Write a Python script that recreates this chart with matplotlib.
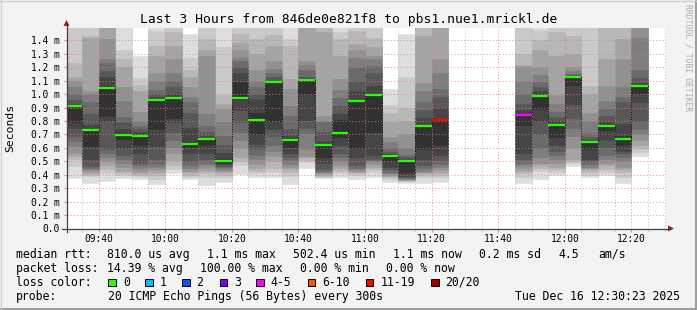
import matplotlib
matplotlib.use('Agg')
import matplotlib.pyplot as plt
from matplotlib.patches import Rectangle, Polygon
from matplotlib.lines import Line2D
from matplotlib.ticker import MultipleLocator

# 5-minute slots (start time), 20 sorted pings per slot in ms
bin_start = ['09:30', '09:35', '09:40', '09:45', '09:50', '09:55', '10:00', '10:05',
             '10:10', '10:15', '10:20', '10:25', '10:30', '10:35', '10:40', '10:45',
             '10:50', '10:55', '11:00', '11:05', '11:10', '11:15', '11:20',
             '11:45', '11:50', '11:55', '12:00', '12:05', '12:10', '12:15', '12:20']

pings = [
    [0.378, 0.465, 0.515, 0.54, 0.565, 0.615, 0.65, 0.69, 0.75, 0.79, 0.90, 0.925, 0.955, 1.0, 1.05, 1.10, 1.13, 1.23, 1.52, 1.60],
    [0.335, 0.39, 0.40, 0.415, 0.43, 0.44, 0.45, 0.465, 0.515, 0.615, 0.74, 0.77, 0.85, 0.94, 1.0, 1.02, 1.42, 1.43, 1.52, 1.60],
    [0.355, 0.41, 0.44, 0.47, 0.50, 0.53, 0.56, 0.59, 0.80, 0.84, 1.06, 1.13, 1.17, 1.23, 1.26, 1.41, 1.52, 1.56, 1.60, 1.65],
    [0.375, 0.40, 0.41, 0.43, 0.46, 0.49, 0.52, 0.55, 0.60, 0.665, 0.71, 0.74, 0.79, 0.83, 0.95, 1.05, 1.20, 1.26, 1.33, 1.60],
    [0.37, 0.39, 0.40, 0.41, 0.43, 0.45, 0.47, 0.49, 0.565, 0.625, 0.695, 0.72, 0.74, 0.76, 0.80, 0.87, 1.02, 1.07, 1.12, 1.28],
    [0.33, 0.37, 0.40, 0.42, 0.44, 0.46, 0.48, 0.52, 0.615, 0.74, 0.965, 0.98, 1.0, 1.03, 1.10, 1.16, 1.28, 1.36, 1.47, 1.55],
    [0.415, 0.44, 0.47, 0.51, 0.56, 0.61, 0.66, 0.72, 0.79, 0.825, 0.98, 1.0, 1.05, 1.10, 1.16, 1.26, 1.36, 1.46, 1.53, 1.60],
    [0.37, 0.385, 0.40, 0.42, 0.43, 0.45, 0.47, 0.50, 0.56, 0.61, 0.64, 0.75, 0.86, 0.94, 0.98, 1.05, 1.13, 1.18, 1.27, 1.45],
    [0.32, 0.385, 0.41, 0.43, 0.45, 0.47, 0.49, 0.52, 0.565, 0.62, 0.67, 0.69, 0.72, 0.76, 0.85, 1.28, 1.33, 1.41, 1.51, 1.58],
    [0.345, 0.38, 0.40, 0.42, 0.43, 0.445, 0.455, 0.465, 0.48, 0.49, 0.515, 0.56, 0.62, 0.69, 0.79, 0.89, 0.93, 0.99, 1.35, 1.60],
    [0.405, 0.47, 0.50, 0.53, 0.60, 0.66, 0.72, 0.79, 0.88, 0.96, 1.09, 1.16, 1.20, 1.25, 1.27, 1.33, 1.38, 1.45, 1.52, 1.60],
    [0.38, 0.41, 0.43, 0.45, 0.48, 0.515, 0.55, 0.59, 0.63, 0.70, 0.86, 0.96, 1.0, 1.05, 1.10, 1.18, 1.30, 1.41, 1.52, 1.60],
    [0.38, 0.42, 0.45, 0.50, 0.54, 0.58, 0.62, 0.69, 0.74, 0.80, 1.09, 1.10, 1.13, 1.16, 1.19, 1.25, 1.36, 1.44, 1.52, 1.60],
    [0.33, 0.39, 0.42, 0.44, 0.46, 0.48, 0.51, 0.53, 0.565, 0.61, 0.66, 0.69, 0.74, 0.84, 0.91, 1.04, 1.11, 1.36, 1.41, 1.60],
    [0.45, 0.495, 0.51, 0.53, 0.54, 0.59, 0.71, 0.75, 0.81, 1.0, 1.11, 1.12, 1.13, 1.18, 1.22, 1.25, 1.50, 1.55, 1.62, 1.70],
    [0.375, 0.385, 0.39, 0.40, 0.41, 0.42, 0.43, 0.44, 0.49, 0.53, 0.63, 0.65, 0.72, 0.79, 0.80, 0.84, 1.46, 1.52, 1.60, 1.70],
    [0.38, 0.41, 0.43, 0.45, 0.47, 0.50, 0.53, 0.56, 0.62, 0.68, 0.81, 0.85, 0.91, 0.97, 1.03, 1.11, 1.28, 1.41, 1.46, 1.56],
    [0.37, 0.40, 0.41, 0.42, 0.43, 0.44, 0.45, 0.47, 0.53, 0.60, 0.955, 1.02, 1.10, 1.20, 1.27, 1.33, 1.37, 1.47, 1.52, 1.60],
    [0.38, 0.42, 0.44, 0.46, 0.48, 0.50, 0.51, 0.52, 0.55, 0.715, 1.0, 1.06, 1.16, 1.21, 1.26, 1.28, 1.35, 1.42, 1.50, 1.60],
    [0.345, 0.365, 0.38, 0.39, 0.40, 0.41, 0.42, 0.44, 0.46, 0.50, 0.545, 0.555, 0.57, 0.60, 0.64, 0.68, 0.79, 0.86, 0.92, 1.04],
    [0.335, 0.35, 0.355, 0.36, 0.365, 0.37, 0.375, 0.38, 0.39, 0.42, 0.51, 0.52, 0.53, 0.55, 0.60, 0.70, 0.80, 0.90, 1.13, 1.45],
    [0.34, 0.38, 0.40, 0.41, 0.42, 0.43, 0.45, 0.47, 0.52, 0.59, 0.77, 0.82, 0.88, 0.94, 1.02, 1.08, 1.43, 1.50, 1.55, 1.65],
    [0.345, 0.38, 0.40, 0.42, 0.44, 0.46, 0.48, 0.51, 0.55, 0.62, 0.81, 0.90, 0.98, 1.04, 1.16, 1.26, 1.50, 1.55, 1.62, 1.70],
    [0.34, 0.38, 0.41, 0.43, 0.45, 0.47, 0.49, 0.52, 0.56, 0.77, 0.85, 0.88, 0.93, 1.0, 1.10, 1.20, 1.22, 1.30, 1.53, 1.60],
    [0.37, 0.43, 0.45, 0.47, 0.49, 0.53, 0.60, 0.70, 0.80, 0.89, 0.99, 1.02, 1.05, 1.09, 1.14, 1.20, 1.33, 1.40, 1.48, 1.60],
    [0.40, 0.42, 0.44, 0.46, 0.49, 0.52, 0.55, 0.58, 0.62, 0.68, 0.78, 0.80, 0.83, 0.87, 0.93, 0.99, 1.28, 1.46, 1.50, 1.60],
    [0.465, 0.485, 0.50, 0.52, 0.60, 0.69, 0.75, 0.82, 0.93, 1.07, 1.13, 1.135, 1.14, 1.15, 1.17, 1.20, 1.30, 1.43, 1.50, 1.60],
    [0.385, 0.40, 0.42, 0.44, 0.45, 0.46, 0.48, 0.50, 0.52, 0.59, 0.645, 0.655, 0.68, 0.71, 0.80, 0.86, 1.0, 1.06, 1.52, 1.60],
    [0.40, 0.42, 0.44, 0.47, 0.49, 0.515, 0.55, 0.61, 0.66, 0.73, 0.77, 0.79, 0.84, 0.89, 0.95, 1.06, 1.26, 1.55, 1.60, 1.70],
    [0.335, 0.38, 0.42, 0.44, 0.46, 0.50, 0.53, 0.56, 0.58, 0.62, 0.69, 0.78, 0.94, 0.98, 1.05, 1.26, 1.41, 1.52, 1.60, 1.70],
    [0.54, 0.57, 0.60, 0.62, 0.66, 0.70, 0.74, 0.80, 0.94, 1.01, 1.065, 1.08, 1.12, 1.18, 1.42, 1.50, 1.55, 1.60, 1.65, 1.70],
]

median = [0.911, 0.735, 1.045, 0.698, 0.688, 0.958, 0.973, 0.631, 0.668, 0.505, 0.971,
          0.81, 1.092, 0.656, 1.107, 0.624, 0.713, 0.951, 0.996, 0.542, 0.505, 0.765,
          0.81, 0.847, 0.986, 0.772, 1.13, 0.646, 0.763, 0.668, 1.063]

# lost pings out of 20 per slot
loss = [0] * 22 + [12, 4] + [0] * 7

x_ticks = ['09:40', '10:00', '10:20', '10:40', '11:00', '11:20', '11:40', '12:00', '12:20']
y_ticks = [0.0, 0.1, 0.2, 0.3, 0.4, 0.5, 0.6, 0.7, 0.8, 0.9, 1.0, 1.1, 1.2, 1.3, 1.4]
y_labels = ['0.0', '0.1 m', '0.2 m', '0.3 m', '0.4 m', '0.5 m', '0.6 m', '0.7 m',
            '0.8 m', '0.9 m', '1.0 m', '1.1 m', '1.2 m', '1.3 m', '1.4 m']

loss_names = ['0', '1', '2', '3', '4-5', '6-10', '11-19', '20/20']
loss_colors = ['#26ff00', '#00b8ff', '#0059ff', '#7e00ff', '#ff00ff', '#ff5500', '#ff0000', '#a00000']


def minutes(s):
    h, m = s.split(':')
    return int(h) * 60 + int(m)


def loss_color(n):
    if n <= 3:
        return loss_colors[n]
    if n <= 5:
        return loss_colors[4]
    if n <= 10:
        return loss_colors[5]
    if n <= 19:
        return loss_colors[6]
    return loss_colors[7]


W, H = 697, 310
mono = 'DejaVu Sans Mono'
plt.rcParams['font.family'] = mono


def fx(x):
    return x / W


def fy(y):
    return 1 - y / H


fig = plt.figure(figsize=(W / 100, H / 100), dpi=100, facecolor='#f3f3f3')
ax = fig.add_axes([fx(66.5), fy(228.5), (666 - 66.5) / W, (228.5 - 28) / H])
ax.set_facecolor('white')

xs = [minutes(s) for s in bin_start]

# smoke: 10 nested bands, lightest outside
shades = ['#dddddd', '#cacaca', '#b7b7b7', '#a4a4a4', '#919191',
          '#7e7e7e', '#6b6b6b', '#585858', '#454545', '#323232']
for i, c in enumerate(shades):
    lo = [p[i] for p in pings]
    hi = [p[19 - i] for p in pings]
    ax.bar(xs, [h - l for h, l in zip(hi, lo)], bottom=lo, width=5, align='edge',
           color=c, edgecolor=c, linewidth=0.4, zorder=1)

# median step connectors
for i in range(len(xs) - 1):
    if xs[i + 1] == xs[i] + 5:
        ax.vlines(xs[i + 1], median[i], median[i + 1], colors='black',
                  linestyles=(0, (1, 1.5)), linewidth=0.7, zorder=3)

ax.hlines(median, xs, [x + 5 for x in xs], colors=[loss_color(n) for n in loss],
          linewidth=1.6, zorder=4)

ax.set_xlim(570 + 23 / 60, 750 + 23 / 60)
ax.set_ylim(0, 1.492)

ax.set_xticks([minutes(s) for s in x_ticks])
ax.set_xticklabels(x_ticks)
ax.xaxis.set_minor_locator(MultipleLocator(5))
ax.set_yticks(y_ticks)
ax.set_yticklabels(y_labels)

ax.set_axisbelow(False)
dots = (0, (1, 2.2))
ax.grid(True, which='minor', axis='x', color='#b0b0b0', alpha=0.8, linestyle=dots, linewidth=0.72)
ax.grid(True, which='major', axis='x', color='#ff7070', alpha=0.8, linestyle=dots, linewidth=0.72)
ax.grid(True, which='major', axis='y', color='#ff7070', alpha=0.8, linestyle=dots, linewidth=0.72)

ax.tick_params(axis='x', which='major', length=2, color='#ff8080', pad=2.2, labelsize=6.9)
ax.tick_params(axis='x', which='minor', length=2, color='#c8c8c8')
ax.tick_params(axis='y', which='major', length=2, color='#ff8080', pad=3.2, labelsize=6.9)
for s in ax.spines.values():
    s.set_visible(False)

# axes with arrows
fig.add_artist(Line2D([fx(66.5), fx(66.5)], [fy(232), fy(24)], color='#404040', linewidth=0.9))
fig.add_artist(Line2D([fx(62), fx(670)], [fy(228.5), fy(228.5)], color='#404040', linewidth=0.9))
fig.add_artist(Polygon([[fx(66.5), fy(20)], [fx(63.5), fy(26)], [fx(69.5), fy(26)]],
                       closed=True, color='#9e1c1c', linewidth=0))
fig.add_artist(Polygon([[fx(674), fy(228.5)], [fx(668), fy(225.5)], [fx(668), fy(231.5)]],
                       closed=True, color='#9e1c1c', linewidth=0))

# frame shading
fig.add_artist(Line2D([0, 1], [fy(309), fy(309)], color='#9e9e9e', linewidth=1.5))
fig.add_artist(Line2D([fx(696), fx(696)], [0, 1], color='#9e9e9e', linewidth=1.5))
fig.add_artist(Line2D([0, 1], [fy(0.5), fy(0.5)], color='#cfcfcf', linewidth=1))
fig.add_artist(Line2D([fx(0.5), fx(0.5)], [0, 1], color='#cfcfcf', linewidth=1))

fig.text(0.5, fy(19), 'Last 3 Hours from 846de0e821f8 to pbs1.nue1.mrickl.de',
         ha='center', va='center', fontsize=9.4)
fig.text(fx(10), fy(127.5), 'Seconds', rotation=90, ha='center', va='center', fontsize=8.2)
fig.text(fx(688), fy(4), 'RRDTOOL / TOBI OETIKER', rotation=270, ha='center', va='top',
         fontsize=5.8, color='#aaaaaa')

fs = 8.3
row1 = [(16, 'median rtt:'), (107, '810.0 us avg'), (207, '1.1 ms max'), (293, '502.4 us min'),
        (393, '1.1 ms now'), (479, '0.2 ms sd'), (558, '4.5'), (598, 'am/s')]
row2 = [(16, 'packet loss:'), (107, '14.39 % avg'), (200, '100.00 % max'),
        (300, '0.00 % min'), (386, '0.00 % now')]
for x, t in row1:
    fig.text(fx(x), fy(257.7), t, fontsize=fs, va='baseline')
for x, t in row2:
    fig.text(fx(x), fy(271.7), t, fontsize=fs, va='baseline')

fig.text(fx(16), fy(285.7), 'loss color:', fontsize=fs, va='baseline')
box_x = [108.4, 145.3, 182, 219.5, 256.4, 307.6, 365.8, 431]
for bx, name, c in zip(box_x, loss_names, loss_colors):
    fig.add_artist(Rectangle((fx(bx), fy(286.3)), 7.5 / W, 7.5 / H, facecolor=c,
                             edgecolor='black', linewidth=0.7))
    fig.text(fx(bx + 14.5), fy(285.7), name, fontsize=fs, va='baseline')

fig.text(fx(16), fy(299.7), 'probe:', fontsize=fs, va='baseline')
fig.text(fx(107.6), fy(299.7), '20 ICMP Echo Pings (56 Bytes) every 300s', fontsize=fs, va='baseline')
fig.text(fx(680), fy(299.7), 'Tue Dec 16 12:30:23 2025', fontsize=fs, va='baseline', ha='right')

fig.savefig('out.png', dpi=100, facecolor=fig.get_facecolor())
